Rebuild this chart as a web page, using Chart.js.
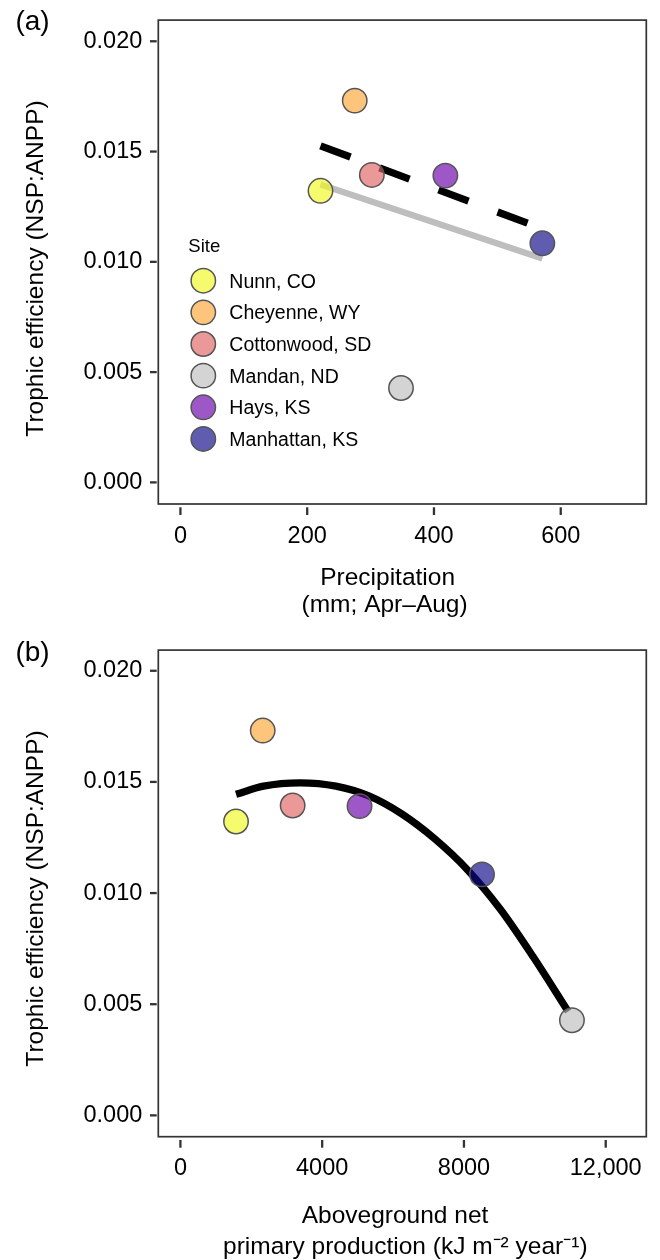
<!DOCTYPE html>
<html lang="en">
<head>
<meta charset="UTF-8">
<title>Trophic efficiency vs precipitation and ANPP</title>
<style>
  body { margin: 0; background: #fff; }
  canvas { display: block; }
</style>
<script src="https://cdn.jsdelivr.net/npm/chart.js"></script>
</head>
<body>
<canvas id="chartA" width="660" height="630"></canvas>
<canvas id="chartB" width="660" height="630"></canvas>
<script>
// Sites and values
const sites = ['Nunn, CO', 'Cheyenne, WY', 'Cottonwood, SD', 'Mandan, ND', 'Hays, KS', 'Manhattan, KS'];
const precipitation = [221, 275, 302, 348, 418, 571];          // mm, Apr-Aug
const anpp = [1569, 2322, 3167, 11047, 5054, 8510];             // kJ m-2 year-1
const efficiency = [0.01322, 0.01731, 0.01394, 0.00428, 0.01391, 0.01084];
const siteColors = ['#F0F921', '#FCA636', '#E16462', '#BEBEBE', '#6A00A8', '#0D0887'];

// fitted lines of panel (a), read at both ends
const fitPrecipX = [221, 571];
const fitDashedY = [0.01526, 0.01150];
const fitGreyY = [0.01351, 0.01015];

// fitted curve of panel (b)
const curveAnppX = [1569, 2343, 3373, 4387, 5316, 6245, 7174, 8103, 9032, 9962, 10940];
const curveEffY = [0.01444, 0.01481, 0.01496, 0.01481, 0.01437, 0.01356, 0.01244, 0.01104, 0.00926, 0.00711, 0.00467];

const yTicks = [0, 0.005, 0.010, 0.015, 0.020];
const yTickLabels = ['0.000', '0.005', '0.010', '0.015', '0.020'];
const xTicksA = [0, 200, 400, 600];
const xTickLabelsA = ['0', '200', '400', '600'];
const xTicksB = [0, 4000, 8000, 12000];
const xTickLabelsB = ['0', '4000', '8000', '12,000'];

const yTitle = 'Trophic efficiency (NSP:ANPP)';

const FONT = '"Liberation Sans", Arial, Helvetica, sans-serif';
Chart.defaults.font.family = FONT;
Chart.defaults.color = '#000';

// semi-transparent fills, as in the original
function fillColor(hex, a = 0.66) {
  const n = parseInt(hex.slice(1), 16);
  return `rgba(${n >> 16}, ${(n >> 8) & 255}, ${n & 255}, ${a})`;
}

// frame, tick marks, titles, panel letter and legend
const decor = {
  id: 'decor',
  afterDraw(chart, args, o) {
    const ctx = chart.ctx, a = chart.chartArea;
    const xs = chart.scales.x, ys = chart.scales.y;
    ctx.save();
    ctx.strokeStyle = '#333';
    ctx.lineWidth = 2.3;
    xs.ticks.forEach(t => {
      const px = xs.getPixelForValue(t.value);
      ctx.beginPath(); ctx.moveTo(px, a.bottom + 3.3); ctx.lineTo(px, a.bottom + 11); ctx.stroke();
    });
    ys.ticks.forEach(t => {
      const py = ys.getPixelForValue(t.value);
      ctx.beginPath(); ctx.moveTo(a.left - 8.3, py); ctx.lineTo(a.left - 1.6, py); ctx.stroke();
    });
    ctx.lineWidth = 1.7;
    ctx.strokeRect(a.left, a.top, a.right - a.left, a.bottom - a.top);

    ctx.fillStyle = '#000';
    ctx.textBaseline = 'alphabetic';
    ctx.textAlign = 'center';
    ctx.font = '28px ' + FONT;
    ctx.fillText(o.panel, 32.5, o.panelY);

    ctx.font = '24.5px ' + FONT;
    ctx.save();
    ctx.translate(43, 268.5);
    ctx.rotate(-Math.PI / 2);
    ctx.fillText(yTitle, 0, 0);
    ctx.restore();
    o.xTitle.forEach((line, i) => ctx.fillText(line, o.xTitleX[i], o.xTitleY[i]));

    if (o.legend) {
      ctx.textAlign = 'left';
      ctx.font = '18.5px ' + FONT;
      ctx.fillText('Site', 188.3, 252.3);
      ctx.font = '19.5px ' + FONT;
      chart.data.datasets.filter(d => d.site).forEach((d, i) => {
        const cy = 280.7 + i * 31.65;
        ctx.beginPath();
        ctx.arc(203.3, cy, 12.2, 0, Math.PI * 2);
        ctx.fillStyle = d.backgroundColor;
        ctx.fill();
        ctx.lineWidth = 1.5;
        ctx.strokeStyle = d.borderColor;
        ctx.stroke();
        ctx.fillStyle = '#000';
        ctx.fillText(d.label, 229.3, cy + 7);
      });
    }
    ctx.restore();
  }
};

function siteDatasets(xValues) {
  return sites.map((s, i) => ({
    type: 'scatter',
    site: true,
    label: s,
    data: [{ x: xValues[i], y: efficiency[i] }],
    backgroundColor: fillColor(siteColors[i]),
    borderColor: '#555',
    borderWidth: 1.5,
    pointRadius: 12.2,
    pointHoverRadius: 12.2,
    order: 1
  }));
}

function axes(xMin, xMax, xTicks, xLabels, yMin, yMax, xHeight) {
  return {
    x: {
      type: 'linear', min: xMin, max: xMax,
      afterBuildTicks: s => { s.ticks = xTicks.map(v => ({ value: v })); },
      afterFit: s => { s.height = xHeight; },
      grid: { drawOnChartArea: false, drawTicks: true, tickLength: 10, color: 'rgba(0,0,0,0)' },
      border: { display: false },
      ticks: { autoSkip: false, maxRotation: 0, padding: 8, color: '#000', font: { size: 23.5 },
               callback: (v, i) => xLabels[i] }
    },
    y: {
      type: 'linear', min: yMin, max: yMax,
      afterBuildTicks: s => { s.ticks = yTicks.map(v => ({ value: v })); },
      afterFit: s => { s.width = 158.3; },
      grid: { drawOnChartArea: false, drawTicks: true, tickLength: 10, color: 'rgba(0,0,0,0)' },
      border: { display: false },
      ticks: { autoSkip: false, padding: 6, color: '#000', font: { size: 23.5 },
               callback: (v, i) => yTickLabels[i] }
    }
  };
}

// Panel (a): precipitation
new Chart(document.getElementById('chartA'), {
  type: 'scatter',
  data: {
    datasets: siteDatasets(precipitation).concat([
      {
        type: 'line',
        data: fitPrecipX.map((x, i) => ({ x, y: fitDashedY[i] })),
        borderColor: '#000', borderWidth: 7.3, borderDash: [32, 31], borderCapStyle: 'butt',
        pointRadius: 0, fill: false, order: 2
      },
      {
        type: 'line',
        data: fitPrecipX.map((x, i) => ({ x, y: fitGreyY[i] })),
        borderColor: '#BEBEBE', borderWidth: 6.3, borderCapStyle: 'butt',
        pointRadius: 0, fill: false, order: 2
      }
    ])
  },
  options: {
    responsive: false,
    animation: false,
    layout: { padding: { top: 11.7, right: 7.7, bottom: 0, left: 0 } },
    scales: axes(-34.9, 735, xTicksA, xTickLabelsA, -0.00098, 0.02096, 126),
    plugins: {
      legend: { display: false },
      tooltip: { enabled: false },
      decor: {
        panel: '(a)', panelY: 30, legend: true,
        xTitle: ['Precipitation', '(mm; Apr\u2013Aug)'],
        xTitleX: [387.6, 384.6], xTitleY: [585, 611.5]
      }
    }
  },
  plugins: [decor]
});

// Panel (b): aboveground net primary production
new Chart(document.getElementById('chartB'), {
  type: 'scatter',
  data: {
    datasets: siteDatasets(anpp).concat([
      {
        type: 'line',
        data: curveAnppX.map((x, i) => ({ x, y: curveEffY[i] })),
        borderColor: '#000', borderWidth: 7.3, borderCapStyle: 'butt',
        cubicInterpolationMode: 'monotone',
        pointRadius: 0, fill: false, order: 2
      }
    ])
  },
  options: {
    responsive: false,
    animation: false,
    layout: { padding: { top: 14, right: 7.7, bottom: 0, left: 0 } },
    scales: axes(-624, 13145, xTicksB, xTickLabelsB, -0.00096, 0.02093, 123.3),
    plugins: {
      legend: { display: false },
      tooltip: { enabled: false },
      decor: {
        panel: '(b)', panelY: 31, legend: false,
        xTitle: ['Aboveground net', 'primary production (kJ m\u207B\u00B2 year\u207B\u00B9)'],
        xTitleX: [395, 405.3], xTitleY: [593.3, 624]
      }
    }
  },
  plugins: [decor]
});
</script>
</body>
</html>
